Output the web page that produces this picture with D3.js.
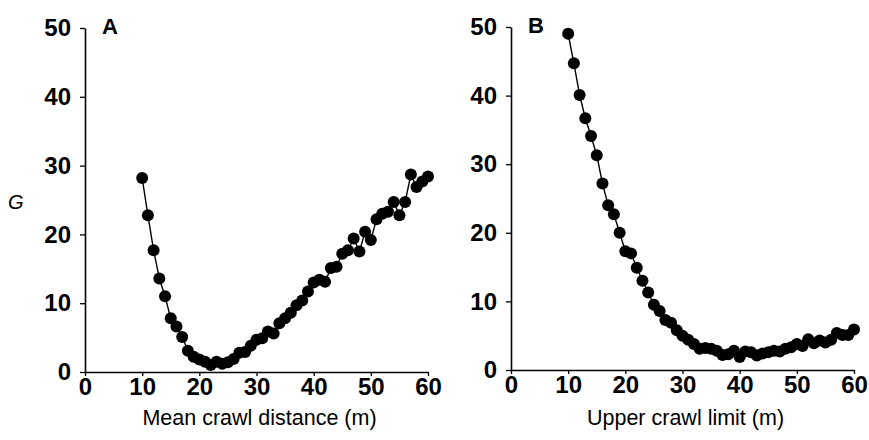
<!DOCTYPE html>
<html>
<head>
<meta charset="utf-8">
<script src="https://cdn.jsdelivr.net/npm/d3@7"></script>
<style>
  body { margin: 0; background: #fff; }
  text { font-family: "Liberation Sans", Arial, sans-serif; }
</style>
</head>
<body>
<script>
// x values shared by both panels
const xVals = d3.range(10, 61);

// panel A: G vs mean crawl distance
const gMean = [
  28.2, 22.8, 17.7, 13.6, 11.0, 7.8, 6.6, 5.1, 3.1, 2.2,
  1.8, 1.5, 1.0, 1.5, 1.2, 1.4, 1.9, 2.8, 2.9, 3.8,
  4.7, 4.9, 5.9, 5.6, 7.1, 7.8, 8.6, 9.7, 10.4, 11.7,
  13.0, 13.4, 13.1, 15.1, 15.3, 17.2, 17.7, 19.4, 17.5, 20.4,
  19.2, 22.2, 23.0, 23.3, 24.7, 22.8, 24.7, 28.7, 26.9, 27.7,
  28.4
];

// panel B: G vs upper crawl limit
const gUpper = [
  49.0, 44.7, 40.1, 36.7, 34.1, 31.3, 27.2, 24.0, 22.7, 20.0,
  17.3, 17.0, 14.9, 13.0, 11.3, 9.5, 8.6, 7.3, 6.9, 5.8,
  5.0, 4.4, 3.8, 3.1, 3.2, 3.1, 2.8, 2.2, 2.3, 2.8,
  1.9, 2.7, 2.6, 2.1, 2.4, 2.6, 2.8, 2.7, 3.1, 3.3,
  3.8, 3.5, 4.5, 3.9, 4.3, 4.0, 4.4, 5.4, 5.1, 5.1,
  5.9
];

const xTicks = [0, 10, 20, 30, 40, 50, 60];
const yTicks = [0, 10, 20, 30, 40, 50];

const width = 869;
const height = 440;

const svg = d3.select("body")
  .append("svg")
  .attr("width", width)
  .attr("height", height);

const panels = [
  {label: "A", title: "Mean crawl distance (m)", values: gMean, left: 85, right: 428, top: 28, bottom: 372},
  {label: "B", title: "Upper crawl limit (m)", values: gUpper, left: 511, right: 854, top: 27, bottom: 370}
];

panels.forEach(p => {
  const x = d3.scaleLinear().domain([0, 60]).range([p.left, p.right]);
  const y = d3.scaleLinear().domain([0, 50]).range([p.bottom, p.top]);

  // x axis
  const gx = svg.append("g")
    .attr("transform", `translate(0,${p.bottom})`)
    .call(d3.axisBottom(x).tickValues(xTicks).tickSize(4).tickSizeOuter(0).tickPadding(2));

  // y axis
  const gy = svg.append("g")
    .attr("transform", `translate(${p.left},0)`)
    .call(d3.axisLeft(y).tickValues(yTicks).tickSize(5).tickSizeOuter(0).tickPadding(9));

  [gx, gy].forEach(g => {
    g.select(".domain").attr("stroke", "#000").attr("stroke-width", 1.6);
    g.selectAll(".tick line").attr("stroke", "#000").attr("stroke-width", 1.3);
    g.selectAll(".tick text")
      .attr("fill", "#000")
      .style("font-size", "24px")
      .style("font-weight", "bold");
  });

  const pts = xVals.map((d, i) => ({x: d, g: p.values[i]}));

  const line = d3.line()
    .x(d => x(d.x))
    .y(d => y(d.g));

  svg.append("path")
    .datum(pts)
    .attr("fill", "none")
    .attr("stroke", "#000")
    .attr("stroke-width", 1.4)
    .attr("d", line);

  svg.append("g")
    .selectAll("circle")
    .data(pts)
    .enter()
    .append("circle")
    .attr("cx", d => x(d.x))
    .attr("cy", d => y(d.g))
    .attr("r", 6)
    .attr("fill", "#000");

  // panel letter
  svg.append("text")
    .attr("x", p.left + 17)
    .attr("y", p.top + 6)
    .style("font-size", "22px")
    .style("font-weight", "bold")
    .text(p.label);

  // x axis title
  svg.append("text")
    .attr("x", (p.left + p.right) / 2 + 3)
    .attr("y", 425)
    .attr("text-anchor", "middle")
    .style("font-size", "21.5px")
    .text(p.title);
});

// y axis title
svg.append("text")
  .attr("x", 8)
  .attr("y", 209)
  .style("font-size", "20px")
  .style("font-style", "italic")
  .text("G");
</script>
</body>
</html>
